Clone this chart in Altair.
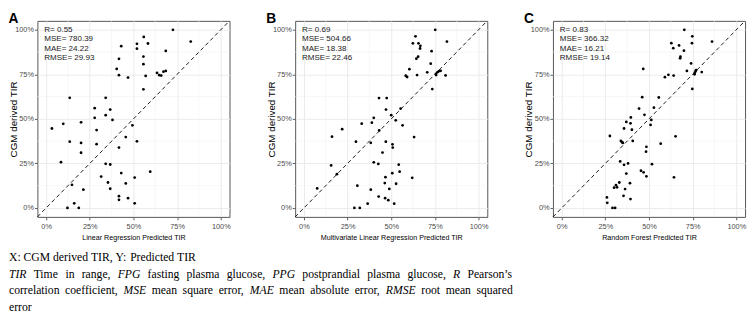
import altair as alt
import pandas as pd

# ---------------- data ----------------
A_pred = [72.6, 55.9, 82.8, 43.0, 52.0, 58.3, 52.0, 68.5, 41.7, 55.7,
          55.7, 40.4, 41.7, 46.9, 57.0, 63.5, 64.8, 65.9, 67.2, 68.5,
          55.7, 13.5, 34.1, 27.8, 36.7, 34.1, 27.8, 38.0, 3.3, 9.8,
          20.0, 28.9, 49.4, 13.5, 20.0, 28.9, 45.6, 52.0, 41.7, 20.0,
          8.5, 34.1, 36.7, 59.6, 43.0, 31.5, 50.7, 35.4, 45.6, 14.8,
          36.7, 21.3, 41.7, 41.7, 46.9, 50.7, 16.1, 12.2, 18.7]
A_obs = [100, 96.0, 93.4, 90.8, 92.1, 92.3, 89.4, 88.1, 83.7, 85.0,
         80.7, 78.0, 74.5, 73.2, 74.1, 75.8, 74.5, 74.3, 76.5, 76.9,
         66.6, 61.8, 61.8, 56.0, 55.2, 52.1, 50.6, 49.4, 44.6, 47.2,
         48.1, 43.7, 46.4, 37.2, 36.5, 35.8, 39.8, 37.4, 33.9, 31.0,
         25.7, 24.8, 24.4, 20.4, 19.6, 17.6, 17.1, 14.3, 13.8, 13.0,
         10.8, 10.3, 6.6, 4.6, 5.5, 2.6, 2.6, 0, 0]

B_pred = [75.2, 63.9, 81.9, 62.4, 65.6, 66.7, 66.5, 73.1, 65.4, 64.4,
          72.6, 60.4, 58.3, 59.1, 64.8, 70.6, 75.6, 76.5, 77.4, 78.3,
          75.7, 81.1, 73.5, 43.0, 47.4, 47.0, 55.4, 50.0, 52.6, 56.5,
          40.0, 38.9, 33.1, 21.9, 43.1, 16.1, 29.8, 38.3, 46.9, 63.1,
          50.7, 50.9, 45.0, 40.0, 42.6, 15.6, 54.3, 54.8, 18.9, 46.7,
          50.6, 62.0, 52.8, 46.3, 30.6, 7.6, 48.9, 38.3, 42.8, 46.5,
          48.3, 36.5, 51.7, 28.9, 32.0]
B_obs = [100, 96.3, 93.4, 92.4, 92.4, 91.0, 89.5, 88.0, 84.9, 83.8,
         81.0, 77.9, 74.2, 73.5, 74.6, 76.1, 75.3, 76.2, 76.8, 77.0,
         74.6, 74.4, 66.7, 61.7, 61.7, 55.2, 55.8, 52.1, 49.2, 46.4,
         50.6, 47.9, 47.3, 44.2, 43.5, 40.0, 37.2, 36.6, 37.2, 39.8,
         35.7, 33.9, 31.1, 25.6, 24.7, 23.9, 24.3, 20.4, 19.0, 17.3,
         19.5, 16.9, 13.6, 14.0, 12.5, 11.0, 10.7, 10.3, 6.4, 5.5,
         4.4, 2.4, 2.4, 0, 0]

C_pred = [70.2, 74.8, 86.1, 62.8, 74.6, 67.2, 63.9, 70.0, 68.0, 67.8,
          74.1, 46.7, 71.7, 76.7, 77.0, 76.3, 76.1, 80.2, 59.1, 61.1,
          64.1, 74.8, 46.1, 55.6, 44.3, 52.8, 39.6, 47.4, 51.3, 37.0,
          39.4, 50.9, 35.7, 40.2, 27.6, 65.2, 33.9, 34.6, 35.0, 40.7,
          56.7, 48.5, 48.3, 33.5, 38.0, 35.7, 51.7, 45.4, 46.9, 37.0,
          48.5, 64.3, 33.0, 39.1, 31.1, 31.7, 30.0, 36.3, 35.4, 39.4,
          25.9, 26.1, 29.1, 30.6]
C_obs = [100, 96.3, 93.4, 92.5, 92.5, 91.2, 89.7, 88.3, 84.9, 84.0,
         81.1, 78.0, 76.9, 76.9, 77.4, 76.0, 75.0, 76.3, 73.4, 74.7,
         74.3, 66.8, 62.2, 62.0, 55.8, 56.3, 50.8, 52.3, 49.4, 48.3,
         47.5, 46.6, 44.6, 43.9, 40.4, 40.2, 37.6, 36.9, 36.5, 37.6,
         36.1, 34.3, 31.6, 26.1, 25.0, 24.2, 24.6, 20.9, 20.0, 19.3,
         17.8, 17.2, 14.3, 13.9, 12.8, 11.6, 11.4, 10.6, 6.8, 5.0,
         5.9, 2.9, 0, 0]

letters = ["A", "B", "C"]
x_titles = ["Linear Regression Predicted TIR",
            "Multivariate Linear Regression Predicted TIR",
            "Random Forest Predicted TIR"]
y_title = "CGM derived TIR"
stats = [["R= 0.55", "MSE= 780.39", "MAE= 24.22", "RMSE= 29.93"],
         ["R= 0.69", "MSE= 504.66", "MAE= 18.38", "RMSE= 22.46"],
         ["R= 0.83", "MSE= 366.32", "MAE= 16.21", "RMSE= 19.14"]]
major_ticks = [0, 25, 50, 75, 100]
minor_ticks = [12.5, 37.5, 62.5, 87.5]
limits = [-5, 105]

caption_lines = [
    "X: CGM derived TIR, Y: Predicted TIR",
    "*TIR* Time in range, *FPG* fasting plasma glucose, *PPG* postprandial plasma glucose, *R* Pearson\u2019s",
    "correlation coefficient, *MSE* mean square error, *MAE* mean absolute error, *RMSE* root mean squared",
    "error",
]
caption_justify = [False, True, True, False]

# ---------------- layout constants ----------------
W, H = 196, 200
SANS = "Liberation Sans"
SERIF = "Liberation Serif"


def panel(letter, pred, obs, xtitle, stat_lines):
    df = pd.DataFrame({"pred": pred, "obs": obs})
    xs = alt.Scale(domain=limits, nice=False, zero=False)
    ys = alt.Scale(domain=limits, nice=False, zero=False)
    common = dict(values=major_ticks, labelExpr="datum.value + '%'", grid=True,
                  gridColor="#EBEBEB", gridWidth=1, domain=False, ticks=True,
                  tickColor="#333333", tickSize=3, tickWidth=0.8,
                  labelFont=SANS, labelFontSize=7.5, labelColor="#4D4D4D",
                  titleFont=SANS, titleFontWeight="normal",
                  titleColor="#000000")
    xaxis = alt.Axis(title=xtitle, titleFontSize=7.3, titlePadding=4,
                     labelPadding=3, **common)
    yaxis = alt.Axis(title=y_title, titleFontSize=10, titleX=-19.5, titleY=H / 2,
                     titleAlign="center", titleBaseline="bottom", titleAngle=270,
                     labelPadding=1, **common)

    minor = pd.DataFrame({"pred": minor_ticks, "obs": minor_ticks})
    vgrid = alt.Chart(minor).mark_rule(color="#F2F2F2", strokeWidth=0.6).encode(
        x=alt.X("pred:Q", scale=xs, axis=xaxis))
    hgrid = alt.Chart(minor).mark_rule(color="#F2F2F2", strokeWidth=0.6).encode(
        y=alt.Y("obs:Q", scale=ys, axis=yaxis))

    ident = pd.DataFrame({"pred": limits, "obs": limits})
    diag = alt.Chart(ident).mark_line(color="black", strokeWidth=0.9,
                                      strokeDash=[4, 3]).encode(
        x=alt.X("pred:Q", scale=xs, axis=xaxis),
        y=alt.Y("obs:Q", scale=ys, axis=yaxis))

    pts = alt.Chart(df).mark_circle(size=8, color="black", opacity=1).encode(
        x=alt.X("pred:Q", scale=xs, axis=xaxis),
        y=alt.Y("obs:Q", scale=ys, axis=yaxis))

    txt = alt.Chart(pd.DataFrame({"label": ["\n".join(stat_lines)]})).mark_text(
        align="left", baseline="middle", lineBreak="\n", lineHeight=9.5,
        font=SANS, fontSize=8.2, color="#1A1A1A").encode(
        x=alt.value(7), y=alt.value(9.5), text="label:N")

    return alt.layer(vgrid, hgrid, diag, pts, txt).properties(
        width=W, height=H,
        title=alt.TitleParams(text=letter, anchor="start", font=SANS, fontSize=14,
                              fontWeight="bold", color="black", offset=-7),
        view=alt.ViewBackground(stroke="#555555", strokeWidth=1, fill="white"))


panels = [panel(letters[0], A_pred, A_obs, x_titles[0], stats[0]),
          panel(letters[1], B_pred, B_obs, x_titles[1], stats[1]),
          panel(letters[2], C_pred, C_obs, x_titles[2], stats[2])]
top = alt.hconcat(*panels, spacing=34)

# ---------------- caption (Times metrics for word placement) ----------------
TR = {' ': 250, ',': 250, '.': 250, ':': 278, '\u2019': 333, "'": 180,
      'A': 722, 'B': 667, 'C': 667, 'D': 722, 'E': 611, 'F': 556, 'G': 722,
      'H': 722, 'I': 333, 'M': 889, 'P': 556, 'R': 667, 'S': 556, 'T': 611,
      'X': 722, 'Y': 722,
      'a': 444, 'b': 500, 'c': 444, 'd': 500, 'e': 444, 'f': 333, 'g': 500,
      'h': 500, 'i': 278, 'j': 278, 'k': 500, 'l': 278, 'm': 778, 'n': 500,
      'o': 500, 'p': 500, 'q': 500, 'r': 333, 's': 389, 't': 278, 'u': 500,
      'v': 500, 'w': 722, 'x': 500, 'y': 500, 'z': 444}
TI = {'A': 611, 'E': 611, 'F': 611, 'G': 722, 'I': 333, 'M': 833, 'P': 611,
      'R': 611, 'S': 500, 'T': 556}
CAP_FS = 11.9
CAP_TARGET = 514
CAP_X0 = -29            # caption origin sits under panel A's plot; shift to page edge
CAP_BASE = [19, 36, 53, 70]


def word_width(word, italic):
    tab = TI if italic else TR
    return sum(tab.get(ch, 500) for ch in word) / 1000 * CAP_FS


rows = []
for li, (line, just) in enumerate(zip(caption_lines, caption_justify)):
    toks = []
    for w in line.split(" "):
        it = w.startswith("*")
        toks.append((w.strip("*"), it))
    widths = [word_width(w, it) for w, it in toks]
    space = TR[' '] / 1000 * CAP_FS
    if just and len(toks) > 1:
        space = (CAP_TARGET - sum(widths)) / (len(toks) - 1)
    x = CAP_X0
    for (w, it), ww in zip(toks, widths):
        rows.append({"word": w, "px": x, "py": CAP_BASE[li], "italic": it})
        x += ww + space
cap_df = pd.DataFrame(rows)

cap_base = alt.Chart(cap_df).encode(
    x=alt.X("px:Q", scale=None, axis=None),
    y=alt.Y("py:Q", scale=None, axis=None),
    text="word:N")
cap_norm = cap_base.transform_filter("!datum.italic").mark_text(
    align="left", baseline="alphabetic", font=SERIF, fontSize=CAP_FS, color="black")
cap_ital = cap_base.transform_filter("datum.italic").mark_text(
    align="left", baseline="alphabetic", font=SERIF, fontSize=CAP_FS,
    fontStyle="italic", color="black")
caption = alt.layer(cap_norm, cap_ital).properties(
    width=690, height=73,
    view=alt.ViewBackground(strokeOpacity=0, fillOpacity=0))

chart = alt.vconcat(top, caption, spacing=0).properties(
    padding=0, background="white")

chart.save("out.html", embed_options={"renderer": "svg", "actions": False})
